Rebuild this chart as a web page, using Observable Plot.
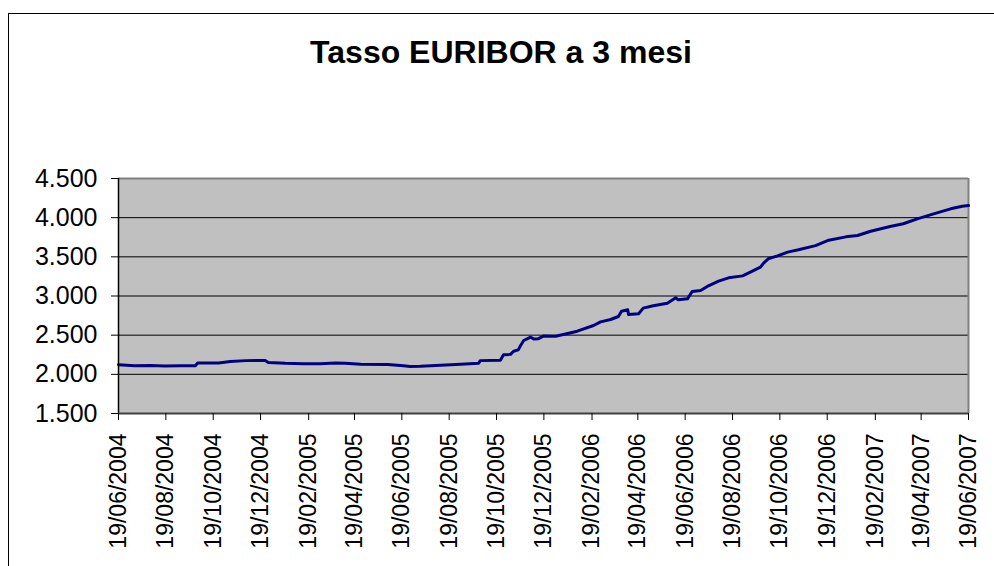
<!DOCTYPE html>
<html>
<head>
<meta charset="utf-8">
<script src="https://cdn.jsdelivr.net/npm/d3@7"></script>
<script src="https://cdn.jsdelivr.net/npm/@observablehq/plot@0.6"></script>
<style>
  html, body { margin: 0; padding: 0; background: #fff; overflow: hidden; }
  #wrap { position: relative; width: 994px; height: 566px; overflow: hidden; }
  #border { position: absolute; left: 8px; top: 13px; width: 1200px; height: 800px;
            border-left: 1px solid #000; border-top: 1px solid #000; pointer-events: none; }
  #title { position: relative; height: 120px; width: 994px; }
  #title span { position: absolute; left: 0; width: 1002px; top: 36px; text-align: center;
                font-family: "Liberation Sans", Arial, sans-serif; font-weight: bold;
                font-size: 32px; line-height: 32px; color: #000; }
  #chart svg { display: block; }
</style>
</head>
<body>
<div id="wrap">
  <div id="border"></div>
  <div id="title"><span>Tasso EURIBOR a 3 mesi</span></div>
  <div id="chart"></div>
</div>
<script>
// --- data ---
const dates = [
  "2004-06-19","2004-07-10","2004-07-30","2004-08-18","2004-09-07","2004-09-26","2004-09-29",
  "2004-10-26","2004-11-10","2004-11-30","2004-12-25","2004-12-29","2005-01-20","2005-02-12",
  "2005-03-06","2005-03-26","2005-04-07","2005-04-27","2005-06-01","2005-06-21","2005-06-30",
  "2005-07-13","2005-08-08","2005-09-03","2005-09-26","2005-09-28","2005-10-24","2005-10-28",
  "2005-11-06","2005-11-10","2005-11-16","2005-11-19","2005-11-23","2005-11-28","2005-12-02",
  "2005-12-06","2005-12-12","2005-12-19","2006-01-03","2006-01-13","2006-01-31","2006-02-21",
  "2006-03-02","2006-03-15","2006-03-25","2006-03-29","2006-04-06","2006-04-07","2006-04-20",
  "2006-04-26","2006-05-09","2006-05-27","2006-06-07","2006-06-10","2006-06-22","2006-06-28",
  "2006-07-09","2006-07-19","2006-08-01","2006-08-14","2006-09-01","2006-09-09","2006-09-24",
  "2006-09-28","2006-10-04","2006-10-16","2006-10-29","2006-11-12","2006-12-04","2006-12-21",
  "2007-01-12","2007-01-27","2007-02-13","2007-03-10","2007-03-27","2007-04-14","2007-05-05",
  "2007-05-27","2007-06-11","2007-06-19"
];
const values = [
  2.122, 2.110, 2.112, 2.106, 2.110, 2.111, 2.145,
  2.145, 2.165, 2.175, 2.176, 2.150, 2.140, 2.135,
  2.135, 2.146, 2.143, 2.128, 2.125, 2.110, 2.100,
  2.102, 2.115, 2.130, 2.142, 2.175, 2.180, 2.250,
  2.255, 2.295, 2.312, 2.368, 2.432, 2.455, 2.474,
  2.450, 2.455, 2.490, 2.487, 2.509, 2.551, 2.623,
  2.670, 2.700, 2.738, 2.806, 2.824, 2.764, 2.773,
  2.845, 2.875, 2.908, 2.977, 2.951, 2.964, 3.057,
  3.070, 3.130, 3.189, 3.232, 3.257, 3.296, 3.368,
  3.419, 3.475, 3.513, 3.560, 3.590, 3.643, 3.712,
  3.755, 3.772, 3.827, 3.887, 3.922, 3.985, 4.049,
  4.113, 4.146, 4.155
];
const yTicks = [1.5, 2.0, 2.5, 3.0, 3.5, 4.0, 4.5];
const xTickLabels = [
  "19/06/2004","19/08/2004","19/10/2004","19/12/2004","19/02/2005","19/04/2005","19/06/2005",
  "19/08/2005","19/10/2005","19/12/2005","19/02/2006","19/04/2006","19/06/2006","19/08/2006",
  "19/10/2006","19/12/2006","19/02/2007","19/04/2007","19/06/2007"
];

const parseTick = d3.utcParse("%d/%m/%Y");
const xTicks = xTickLabels.map(parseTick);
const data = dates.map((d, i) => ({date: new Date(d + "T00:00:00Z"), value: values[i]}));
const gridTicks = yTicks.slice(1, -1);

const chart = Plot.plot({
  width: 994,
  height: 446,
  marginLeft: 118,
  marginRight: 26,
  marginTop: 58,
  marginBottom: 153,
  style: {fontFamily: "'Liberation Sans', Arial, sans-serif", background: "transparent", overflow: "visible", color: "#000"},
  x: {type: "utc", domain: [xTicks[0], xTicks[xTicks.length - 1]], label: null},
  y: {domain: [1.5, 4.5], label: null},
  marks: [
    Plot.frame({fill: "#c0c0c0"}),
    Plot.gridY(gridTicks, {stroke: "#000", strokeOpacity: 1, strokeWidth: 1}),
    Plot.ruleY([yTicks[yTicks.length - 1]], {stroke: "#808080", strokeWidth: 2}),
    Plot.ruleX([xTicks[xTicks.length - 1]], {stroke: "#808080", strokeWidth: 2}),
    Plot.line(data, {x: "date", y: "value", stroke: "#000080", strokeWidth: 3}),
    Plot.ruleX([xTicks[0]], {stroke: "#000", strokeWidth: 1.5}),
    Plot.ruleY([yTicks[0]], {stroke: "#404040", strokeWidth: 2}),
    Plot.axisY(yTicks, {tickSize: 7, tickPadding: 14, tickFormat: d3.format(".3f"), fontSize: 25, label: null}),
    Plot.axisX(xTicks, {tickSize: 7, tickPadding: 13, tickRotate: -90, tickFormat: d3.utcFormat("%d/%m/%Y"), fontSize: 23, label: null})
  ]
});
document.getElementById("chart").appendChild(chart);
</script>
</body>
</html>
